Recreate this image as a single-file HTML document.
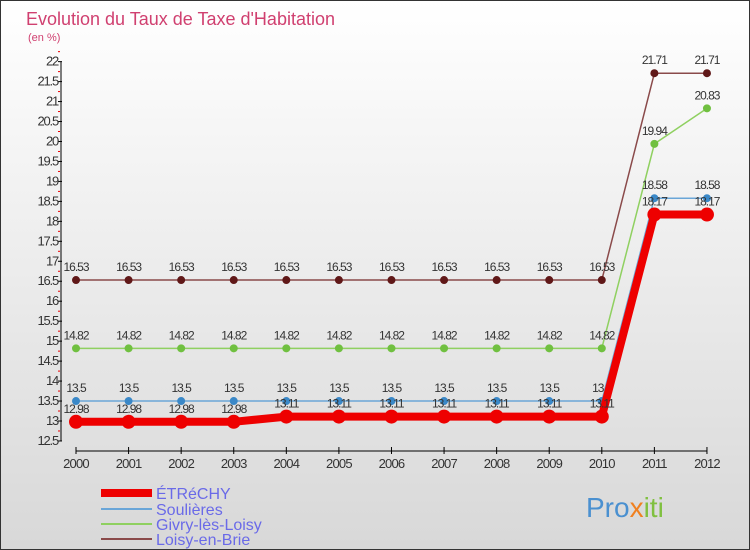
<!DOCTYPE html>
<html><head><meta charset="utf-8"><style>
body{margin:0}
#c{position:relative;width:750px;height:550px;background:linear-gradient(#ffffff,#d8d8d8);box-sizing:border-box;border:1px solid #333;font-family:"Liberation Sans",sans-serif;overflow:hidden}
text{font-family:"Liberation Sans",sans-serif}
</style></head><body>
<div id="c">
<svg id="s" width="750" height="550">
<text x="25" y="24" font-size="18" fill="#d04070">Evolution du Taux de Taxe d'Habitation</text>
<text x="27" y="40" font-size="11" fill="#d04070">(en %)</text>
<g id="axes"></g><g id="series"></g>
<g>
<line x1="100" y1="492" x2="151" y2="492" stroke="#e00" stroke-width="8"/>
<text x="155" y="498" font-size="16" fill="#6a6ae8">ÉTRéCHY</text>
<line x1="100" y1="508" x2="151" y2="508" stroke="#6aa6d8" stroke-width="2"/>
<text x="155" y="514" font-size="16" fill="#6a6ae8">Soulières</text>
<line x1="100" y1="523" x2="151" y2="523" stroke="#8fd060" stroke-width="2"/>
<text x="155" y="529" font-size="16" fill="#6a6ae8">Givry-lès-Loisy</text>
<line x1="100" y1="538" x2="151" y2="538" stroke="#8a4a4a" stroke-width="2"/>
<text x="155" y="544" font-size="16" fill="#6a6ae8">Loisy-en-Brie</text>
</g>
<text x="585" y="516" font-size="28" fill="#4a90d0">Pro<tspan fill="#f08020">x</tspan><tspan fill="#80c040">iti</tspan></text>
</svg></div>
<script>
const years=[2000,2001,2002,2003,2004,2005,2006,2007,2008,2009,2010,2011,2012];
const etrechy=[12.98,12.98,12.98,12.98,13.11,13.11,13.11,13.11,13.11,13.11,13.11,18.17,18.17];
const soulieres=[13.5,13.5,13.5,13.5,13.5,13.5,13.5,13.5,13.5,13.5,13.5,18.58,18.58];
const givry=[14.82,14.82,14.82,14.82,14.82,14.82,14.82,14.82,14.82,14.82,14.82,19.94,20.83];
const loisy=[16.53,16.53,16.53,16.53,16.53,16.53,16.53,16.53,16.53,16.53,16.53,21.71,21.71];
const yTicks=[12.5,13,13.5,14,14.5,15,15.5,16,16.5,17,17.5,18,18.5,19,19.5,20,20.5,21,21.5,22];
const NS="http://www.w3.org/2000/svg";
const X=i=>75+i*52.58, Y=v=>420-(v-13)*39.93;
function mk(t,a,p){const e=document.createElementNS(NS,t);for(const k in a)e.setAttribute(k,a[k]);p.appendChild(e);return e;}
const ax=document.getElementById('axes'), sg=document.getElementById('series');
let l=mk('line',{x1:60,y1:Y(22),x2:60,y2:Y(12.5),stroke:'#000'},ax);


yTicks.forEach(v=>{
 mk('line',{x1:57,y1:Y(v),x2:61,y2:Y(v),stroke:'#000'},ax);
 mk('line',{x1:57,y1:Y(v+0.25),x2:59,y2:Y(v+0.25),stroke:'#e00'},ax);
 const t=mk('text',{x:57,y:Y(v)+4,'font-size':13,'text-anchor':'end',fill:'#333','letter-spacing':'-1.2'},ax);t.textContent=v;
 
 
});
l=mk('line',{x1:75,y1:450,x2:X(12),y2:450,stroke:'#000'},ax);


years.forEach((y,i)=>{
 mk('line',{x1:X(i),y1:446,x2:X(i),y2:453,stroke:'#000'},ax);
 const t=mk('text',{x:X(i),y:467,'font-size':13,'text-anchor':'middle',fill:'#333','letter-spacing':'-0.8'},ax);t.textContent=y;
 
 
});
function series(d,col,w,r,name,ptCol){
 const p=mk('polyline',{points:d.map((v,i)=>X(i)+','+Y(v)).join(' '),fill:'none',stroke:col,'stroke-width':w},sg);
 
 
 d.forEach((v,i)=>{
  const c=mk('circle',{cx:X(i),cy:Y(v),r:r,fill:ptCol},sg);
  
  
  const t=mk('text',{x:X(i),y:Y(v)-9,'font-size':12,'text-anchor':'middle',fill:'#333','letter-spacing':'-1'},sg);t.textContent=v;
  
  
 });
}
series(loisy,'#8a4a4a',1.5,4,'loisy','#601818');
series(givry,'#8fd060',1.5,4,'givry','#70c040');
series(soulieres,'#6aa6d8',1.5,4,'soulieres','#3a88c8');
series(etrechy,'#e00',8,7,'etrechy','#e00');
</script>
</body></html>
